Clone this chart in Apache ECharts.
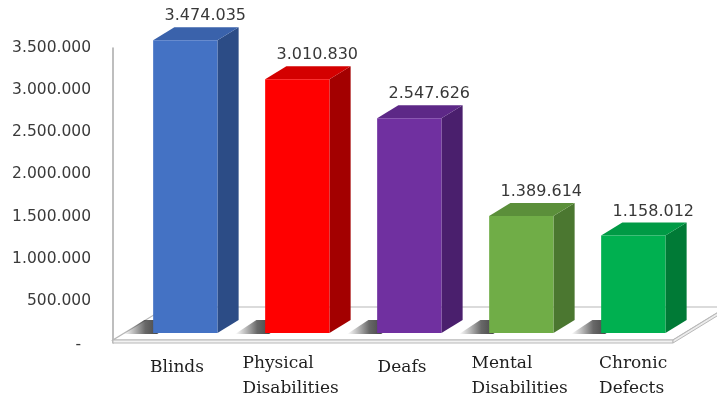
<!DOCTYPE html>
<html><head><meta charset="utf-8">
<script src="https://cdn.jsdelivr.net/npm/echarts@6/dist/echarts.min.js"></script>
<style>html,body{margin:0;padding:0;background:#fff}#c{width:717px;height:406px}</style>
</head><body><div id="c"></div>
<script>
// ---- data ----
const categories = ['Blinds', 'Physical\nDisabilities', 'Deafs', 'Mental\nDisabilities', 'Chronic\nDefects'];
const values = [3474035, 3010830, 2547626, 1389614, 1158012];
const yTicks = [0, 500000, 1000000, 1500000, 2000000, 2500000, 3000000, 3500000];

// ---- styles ----
const frontColors = ['#4472c4', '#ff0000', '#7030a0', '#70ad47', '#00b050'];
const topColors   = ['#3a62ab', '#d40000', '#5d2887', '#5b8f3a', '#009a45'];
const sideColors  = ['#2c4c86', '#a30000', '#4a1f6d', '#4b7730', '#007a36'];

const DX = 1.63;      // x shift per px of depth
const FRONT_OFF = 10; // bar front plane depth behind floor front edge
const BAR_DEPTH = 13;

function fmt(v) {
  if (v === 0) return '-';
  return String(v).replace(/\B(?=(\d{3})+(?!\d))/g, '.');
}

function renderFloor(params, api) {
  const cs = params.coordSys;
  const xl = cs.x, xr = cs.x + cs.width, y0 = cs.y + cs.height;
  const th = 3, d = 33, dx = d * DX;
  const yt = y0 - th;
  return { type: 'group', children: [
    { type: 'polygon', shape: { points: [[xl, yt], [xr, yt], [xr + dx, yt - d], [xl + dx, yt - d]] },
      style: { fill: '#ffffff', stroke: '#b8b8b8', lineWidth: 1.2 } },
    { type: 'polygon', shape: { points: [[xl, yt], [xr, yt], [xr, y0], [xl, y0]] },
      style: { fill: '#f2f2f2', stroke: '#b8b8b8', lineWidth: 1 } },
    { type: 'polygon', shape: { points: [[xr, yt], [xr + dx, yt - d], [xr + dx, y0 - d], [xr, y0]] },
      style: { fill: '#ececec', stroke: '#b8b8b8', lineWidth: 1 } }
  ] };
}

function renderBar(params, api) {
  const i = api.value(0), v = api.value(1);
  const base = api.coord([i, 0]);
  const topP = api.coord([i, v]);
  const bw = api.size([1, 0])[0];
  const halfW = bw * 0.287;
  const cx = base[0] + FRONT_OFF * DX;
  const yb = base[1] - FRONT_OFF;
  const yt = topP[1] - FRONT_OFF;
  const x0 = cx - halfW, x1 = cx + halfW;
  const ddx = BAR_DEPTH * DX, ddy = BAR_DEPTH;
  const sw = 30;
  return { type: 'group', children: [
    // shadow on floor
    { type: 'polygon', shape: { points: [[x0 - sw, yb + 1], [x0 + 4, yb + 1], [x0 + ddx + 4, yb - ddy], [x0 + ddx - sw, yb - ddy]] },
      style: { fill: { type: 'linear', x: 0, y: 0, x2: 1, y2: 0, colorStops: [
        { offset: 0, color: 'rgba(60,60,60,0)' }, { offset: 0.4, color: 'rgba(40,40,40,0.7)' }, { offset: 1, color: 'rgba(15,15,15,1)' }] } } },
    // side
    { type: 'polygon', shape: { points: [[x1, yb], [x1 + ddx, yb - ddy], [x1 + ddx, yt - ddy], [x1, yt]] },
      style: { fill: sideColors[i] } },
    // top
    { type: 'polygon', shape: { points: [[x0, yt], [x1, yt], [x1 + ddx, yt - ddy], [x0 + ddx, yt - ddy]] },
      style: { fill: topColors[i] } },
    // front
    { type: 'rect', shape: { x: x0, y: yt, width: x1 - x0, height: yb - yt },
      style: { fill: frontColors[i] } },
    // value label
    { type: 'text', x: cx + 20, y: yt - ddy - 11,
      style: { text: fmt(v), fill: '#383838', font: '16px "DejaVu Sans"', align: 'center', verticalAlign: 'middle' } }
  ] };
}

const serif = { fontFamily: 'DejaVu Serif', fontSize: 17, color: '#1e1e1e' };
const chart = echarts.init(document.getElementById('c'), null, { renderer: 'canvas' });
chart.setOption({
  animation: false,
  backgroundColor: '#ffffff',
  grid: { left: 113, right: 44, top: 48, bottom: 63 },
  xAxis: {
    type: 'category', data: categories,
    axisLine: { show: false }, axisTick: { show: false },
    axisLabel: {
      interval: 0, margin: 8, color: '#1e1e1e',
      fontFamily: 'DejaVu Serif', fontSize: 17, lineHeight: 25,
      formatter: function (val, idx) {
        const lines = val.split('\n');
        return lines.map(l => '{c' + idx + '|' + l + '}').join('\n');
      },
      rich: {
        c0: Object.assign({ padding: [9, 0, 0, 16] }, serif),
        c1: Object.assign({ lineHeight: 25, width: 97, align: 'left', padding: [0, 0, 0, 20] }, serif),
        c2: Object.assign({ padding: [9, 0, 0, 18] }, serif),
        c3: Object.assign({ lineHeight: 25, width: 97, align: 'left', padding: [0, 0, 0, 30] }, serif),
        c4: Object.assign({ lineHeight: 25, width: 70, align: 'left', padding: [0, 0, 0, 34] }, serif)
      }
    }
  },
  yAxis: {
    type: 'value', min: yTicks[0], max: yTicks[yTicks.length - 1], interval: yTicks[1] - yTicks[0],
    splitLine: { show: false }, axisTick: { show: false },
    axisLine: { show: true, lineStyle: { color: '#a8a8a8', width: 1.5 } },
    axisLabel: {
      margin: 22, color: '#3a3a3a', fontFamily: 'DejaVu Sans', fontSize: 15.5,
      formatter: function (v) { return v === 0 ? '{d|-}' : fmt(v); },
      rich: { d: { color: '#3a3a3a', fontFamily: 'DejaVu Sans', fontSize: 15.5, padding: [4, 10, 0, 0] } }
    }
  },
  series: [
    { type: 'custom', name: 'floor', data: [[0, 0]], renderItem: renderFloor, clip: false, z: 1, silent: true },
    { type: 'custom', name: 'bars', data: values.map((v, i) => [i, v]), renderItem: renderBar, clip: false, z: 2 }
  ]
});
</script>
</body></html>
